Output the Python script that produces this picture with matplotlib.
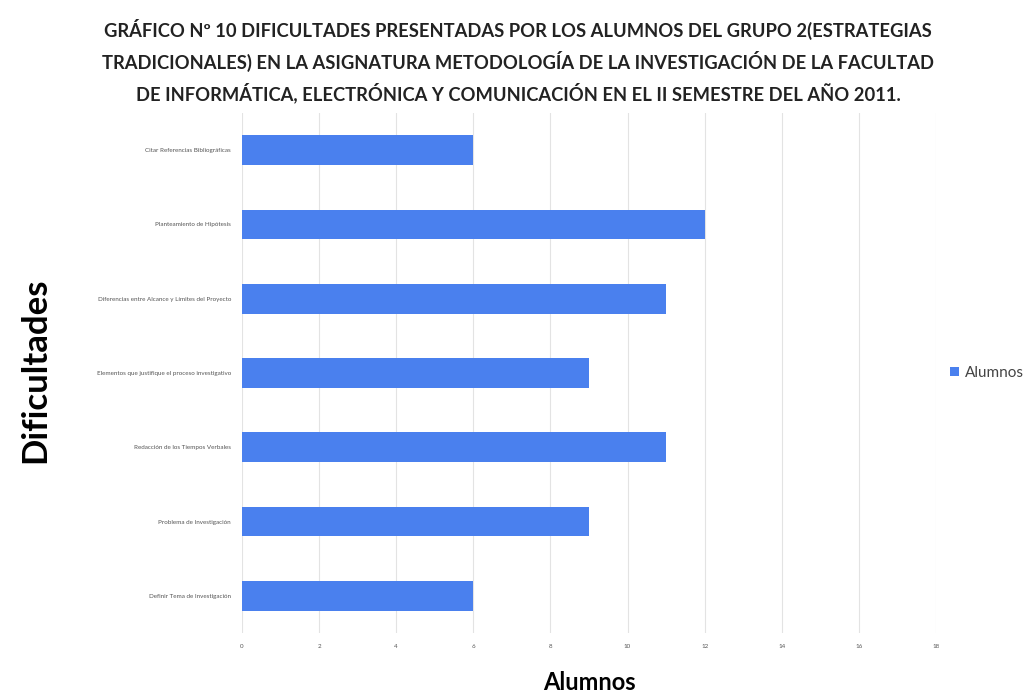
import matplotlib.pyplot as plt

# difficulties reported by students (group 2), bottom to top
dificultades = [
    "Definir Tema de Investigación",
    "Problema de Investigación",
    "Redacción de los Tiempos Verbales",
    "Elementos que justifique el proceso investigativo",
    "Diferencias entre Alcance y Límites del Proyecto",
    "Planteamiento de Hipótesis",
    "Citar Referencias Bibliográficas",
]
alumnos = [6, 9, 11, 9, 11, 12, 6]
x_ticks = [0, 2, 4, 6, 8, 10, 12, 14, 16, 18]

BAR_COLOR = "#4a80ee"
TITLE = (
    "GRÁFICO Nº 10 DIFICULTADES PRESENTADAS POR LOS ALUMNOS DEL GRUPO 2(ESTRATEGIAS\n"
    "TRADICIONALES) EN LA ASIGNATURA METODOLOGÍA DE LA INVESTIGACIÓN DE LA FACULTAD\n"
    "DE INFORMÁTICA, ELECTRÓNICA Y COMUNICACIÓN EN EL II SEMESTRE DEL AÑO 2011."
)

plt.rcParams["font.family"] = ["Lato", "DejaVu Sans"]

fig = plt.figure(figsize=(10.36, 6.95), dpi=100)
ax = fig.add_axes([242 / 1036, 1 - 633 / 695, (936 - 242) / 1036, (633 - 113) / 695])

ax.barh(range(len(dificultades)), alumnos, height=0.4, color=BAR_COLOR, label="Alumnos", zorder=3)

ax.set_xlim(0, 18)
ax.set_ylim(-0.5, len(dificultades) - 0.5)
ax.set_xticks(x_ticks)
ax.set_xticklabels([str(t) for t in x_ticks], fontsize=4.5, color="#555555")
ax.set_yticks(range(len(dificultades)))
ax.set_yticklabels(dificultades, fontsize=4.5, color="#555555")
ax.tick_params(length=0, pad=8)
ax.grid(axis="x", color="#e3e3e3", linewidth=0.8, zorder=0)
for side in ["top", "right", "bottom", "left"]:
    ax.spines[side].set_visible(False)

ax.set_xlabel("Alumnos", fontsize=17, fontweight="bold", labelpad=16)
fig.text(35 / 1036, 1 - 370 / 695, "Dificultades", rotation=90, fontsize=25,
         fontweight="bold", ha="center", va="center")

fig.text(0.5, 1 - 19 / 695, TITLE, ha="center", va="top", fontsize=13.2,
         fontweight="bold", linespacing=1.6, color="#222222")

ax.legend(loc="center left", bbox_to_anchor=(1.0, 0.5), frameon=False,
          fontsize=11, handlelength=0.6, handleheight=0.6, handletextpad=0.4,
          labelcolor="#444444")

fig.savefig("out.png", dpi=100)
